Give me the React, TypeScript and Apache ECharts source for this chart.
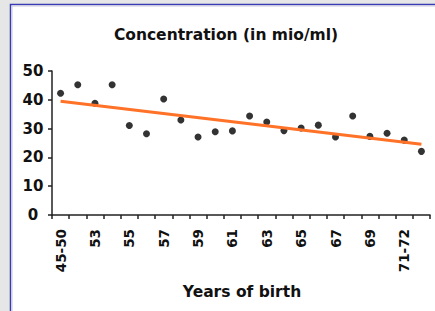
import React, { useEffect, useRef } from "react";
import * as echarts from "echarts";

const categories = [
  "45-50", "51-52", "53", "54", "55", "56", "57", "58", "59", "60", "61",
  "62", "63", "64", "65", "66", "67", "68", "69", "70", "71-72", "73",
];
const concentration = [
  42.3, 45.2, 38.8, 45.2, 31.1, 28.2, 40.3, 33.0, 27.1, 28.9, 29.2,
  34.4, 32.3, 29.3, 30.2, 31.2, 27.1, 34.4, 27.3, 28.4, 26.0, 22.1,
];
const trendStart = 39.5;
const trendEnd = 24.6;
const yTicks = { min: 0, max: 50, interval: 10 };
const titleText = "Concentration (in mio/ml)";
const xAxisName = "Years of birth";

const FONT = "DejaVu Sans";

export default function App() {
  const ref = useRef<HTMLDivElement>(null);
  useEffect(() => {
    if (!ref.current) return;
    const chart = echarts.init(ref.current, null, { renderer: "svg" });
    chart.setOption({
      animation: false,
      backgroundColor: "#e6e6e6",
      graphic: [
        {
          type: "rect",
          z: -10,
          silent: true,
          shape: { x: 10.5, y: 4.5, width: 440, height: 320 },
          style: { fill: "#ffffff", stroke: "#3a3ab4", lineWidth: 1.5 },
        },
        {
          type: "rect",
          z: -9,
          silent: true,
          shape: { x: 12, y: 6, width: 440, height: 320 },
          style: { fill: "none", stroke: "#c8c8d8", lineWidth: 1 },
        },
        {
          type: "text",
          x: 226,
          y: 35,
          style: {
            text: titleText,
            fontFamily: FONT,
            fontWeight: "bold",
            fontSize: 15.5,
            fill: "#111",
            align: "center",
            verticalAlign: "middle",
          },
        },
        {
          type: "text",
          x: 242,
          y: 292,
          style: {
            text: xAxisName,
            fontFamily: FONT,
            fontWeight: "bold",
            fontSize: 15.5,
            fill: "#111",
            align: "center",
            verticalAlign: "middle",
          },
        },
      ],
      grid: { left: 52, right: 5, top: 71, bottom: 96, containLabel: false },
      xAxis: {
        type: "category",
        data: categories,
        boundaryGap: true,
        axisLine: { lineStyle: { color: "#222", width: 1.5 } },
        axisTick: { show: true, interval: 0, length: 4, lineStyle: { color: "#222", width: 1.5 } },
        axisLabel: {
          interval: 1,
          rotate: 90,
          margin: 14,
          fontFamily: FONT,
          fontWeight: "bold",
          fontSize: 13.5,
          color: "#111",
        },
        splitLine: { show: false },
      },
      yAxis: {
        type: "value",
        min: yTicks.min,
        max: yTicks.max,
        interval: yTicks.interval,
        axisLine: { show: true, lineStyle: { color: "#222", width: 1.5 } },
        axisTick: { show: true, length: 4, lineStyle: { color: "#222", width: 1.5 } },
        axisLabel: {
          margin: 19,
          align: "center",
          fontFamily: FONT,
          fontWeight: "bold",
          fontSize: 15,
          color: "#111",
        },
        splitLine: { show: false },
      },
      series: [
        {
          type: "scatter",
          data: concentration,
          symbol: "circle",
          symbolSize: 7,
          itemStyle: { color: "#000" },
          z: 2,
        },
        {
          type: "line",
          data: [
            [0, trendStart],
            [categories.length - 1, trendEnd],
          ],
          symbol: "none",
          lineStyle: { color: "#ff7228", width: 3 },
          z: 3,
        },
      ],
    });
    return () => chart.dispose();
  }, []);
  return (
    <div
      ref={ref}
      style={{ position: "fixed", left: 0, top: 0, width: 435, height: 311 }}
    />
  );
}
